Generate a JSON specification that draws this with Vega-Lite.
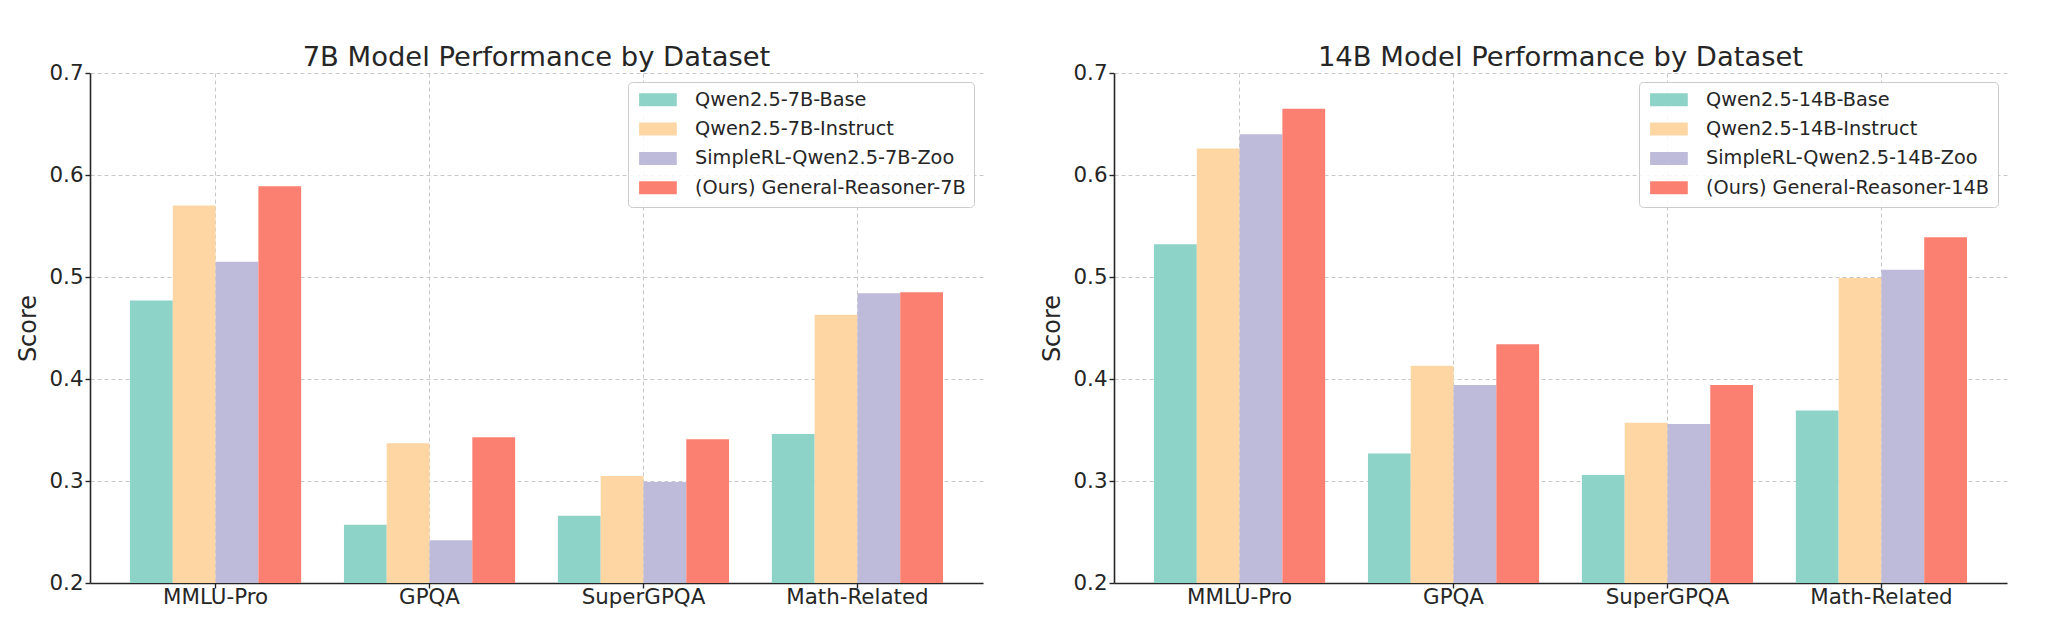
{
  "$schema": "https://vega.github.io/schema/vega-lite/v6.json",
  "padding": {"left": 16, "top": 43, "right": 10, "bottom": 5},
  "background": "white",
  "spacing": 131,
  "bounds": "flush",
  "datasets": {
    "scores": [
      {"panel": "7B", "dataset": "MMLU-Pro", "model": "Qwen2.5-7B-Base", "score": 0.477},
      {"panel": "7B", "dataset": "MMLU-Pro", "model": "Qwen2.5-7B-Instruct", "score": 0.570},
      {"panel": "7B", "dataset": "MMLU-Pro", "model": "SimpleRL-Qwen2.5-7B-Zoo", "score": 0.515},
      {"panel": "7B", "dataset": "MMLU-Pro", "model": "(Ours) General-Reasoner-7B", "score": 0.589},
      {"panel": "7B", "dataset": "GPQA", "model": "Qwen2.5-7B-Base", "score": 0.257},
      {"panel": "7B", "dataset": "GPQA", "model": "Qwen2.5-7B-Instruct", "score": 0.337},
      {"panel": "7B", "dataset": "GPQA", "model": "SimpleRL-Qwen2.5-7B-Zoo", "score": 0.242},
      {"panel": "7B", "dataset": "GPQA", "model": "(Ours) General-Reasoner-7B", "score": 0.343},
      {"panel": "7B", "dataset": "SuperGPQA", "model": "Qwen2.5-7B-Base", "score": 0.266},
      {"panel": "7B", "dataset": "SuperGPQA", "model": "Qwen2.5-7B-Instruct", "score": 0.305},
      {"panel": "7B", "dataset": "SuperGPQA", "model": "SimpleRL-Qwen2.5-7B-Zoo", "score": 0.299},
      {"panel": "7B", "dataset": "SuperGPQA", "model": "(Ours) General-Reasoner-7B", "score": 0.341},
      {"panel": "7B", "dataset": "Math-Related", "model": "Qwen2.5-7B-Base", "score": 0.346},
      {"panel": "7B", "dataset": "Math-Related", "model": "Qwen2.5-7B-Instruct", "score": 0.463},
      {"panel": "7B", "dataset": "Math-Related", "model": "SimpleRL-Qwen2.5-7B-Zoo", "score": 0.484},
      {"panel": "7B", "dataset": "Math-Related", "model": "(Ours) General-Reasoner-7B", "score": 0.485},
      {"panel": "14B", "dataset": "MMLU-Pro", "model": "Qwen2.5-14B-Base", "score": 0.532},
      {"panel": "14B", "dataset": "MMLU-Pro", "model": "Qwen2.5-14B-Instruct", "score": 0.626},
      {"panel": "14B", "dataset": "MMLU-Pro", "model": "SimpleRL-Qwen2.5-14B-Zoo", "score": 0.640},
      {"panel": "14B", "dataset": "MMLU-Pro", "model": "(Ours) General-Reasoner-14B", "score": 0.665},
      {"panel": "14B", "dataset": "GPQA", "model": "Qwen2.5-14B-Base", "score": 0.327},
      {"panel": "14B", "dataset": "GPQA", "model": "Qwen2.5-14B-Instruct", "score": 0.413},
      {"panel": "14B", "dataset": "GPQA", "model": "SimpleRL-Qwen2.5-14B-Zoo", "score": 0.394},
      {"panel": "14B", "dataset": "GPQA", "model": "(Ours) General-Reasoner-14B", "score": 0.434},
      {"panel": "14B", "dataset": "SuperGPQA", "model": "Qwen2.5-14B-Base", "score": 0.306},
      {"panel": "14B", "dataset": "SuperGPQA", "model": "Qwen2.5-14B-Instruct", "score": 0.357},
      {"panel": "14B", "dataset": "SuperGPQA", "model": "SimpleRL-Qwen2.5-14B-Zoo", "score": 0.356},
      {"panel": "14B", "dataset": "SuperGPQA", "model": "(Ours) General-Reasoner-14B", "score": 0.394},
      {"panel": "14B", "dataset": "Math-Related", "model": "Qwen2.5-14B-Base", "score": 0.369},
      {"panel": "14B", "dataset": "Math-Related", "model": "Qwen2.5-14B-Instruct", "score": 0.499},
      {"panel": "14B", "dataset": "Math-Related", "model": "SimpleRL-Qwen2.5-14B-Zoo", "score": 0.507},
      {"panel": "14B", "dataset": "Math-Related", "model": "(Ours) General-Reasoner-14B", "score": 0.539}
    ]
  },
  "resolve": {
    "scale": {"color": "independent", "xOffset": "independent", "x": "independent", "y": "independent"},
    "legend": {"color": "independent"}
  },
  "hconcat": [
    {
      "width": 893,
      "height": 510,
      "title": {"text": "7B Model Performance by Dataset"},
      "data": {"name": "scores"},
      "transform": [{"filter": "datum.panel === '7B'"}],
      "mark": {"type": "bar", "clip": true},
      "encoding": {
        "x": {
          "field": "dataset", "type": "nominal", "title": null,
          "sort": ["MMLU-Pro", "GPQA", "SuperGPQA", "Math-Related"],
          "scale": {"paddingInner": 0.2, "paddingOuter": 0.187}
        },
        "xOffset": {
          "field": "model", "type": "nominal",
          "sort": ["Qwen2.5-7B-Base", "Qwen2.5-7B-Instruct", "SimpleRL-Qwen2.5-7B-Zoo", "(Ours) General-Reasoner-7B"]
        },
        "y": {
          "field": "score", "type": "quantitative", "title": "Score",
          "scale": {"domain": [0.2, 0.7], "nice": false, "zero": false},
          "axis": {"values": [0.2, 0.3, 0.4, 0.5, 0.6, 0.7], "format": ".1f"}
        },
        "color": {
          "field": "model", "type": "nominal", "title": null,
          "scale": {
            "domain": ["Qwen2.5-7B-Base", "Qwen2.5-7B-Instruct", "SimpleRL-Qwen2.5-7B-Zoo", "(Ours) General-Reasoner-7B"],
            "range": ["#8DD3C7", "#FDD6A4", "#BEBADA", "#FB8072"]
          }
        }
      }
    },
    {
      "width": 893,
      "height": 510,
      "title": {"text": "14B Model Performance by Dataset"},
      "data": {"name": "scores"},
      "transform": [{"filter": "datum.panel === '14B'"}],
      "mark": {"type": "bar", "clip": true},
      "encoding": {
        "x": {
          "field": "dataset", "type": "nominal", "title": null,
          "sort": ["MMLU-Pro", "GPQA", "SuperGPQA", "Math-Related"],
          "scale": {"paddingInner": 0.2, "paddingOuter": 0.187}
        },
        "xOffset": {
          "field": "model", "type": "nominal",
          "sort": ["Qwen2.5-14B-Base", "Qwen2.5-14B-Instruct", "SimpleRL-Qwen2.5-14B-Zoo", "(Ours) General-Reasoner-14B"]
        },
        "y": {
          "field": "score", "type": "quantitative", "title": "Score",
          "scale": {"domain": [0.2, 0.7], "nice": false, "zero": false},
          "axis": {"values": [0.2, 0.3, 0.4, 0.5, 0.6, 0.7], "format": ".1f"}
        },
        "color": {
          "field": "model", "type": "nominal", "title": null,
          "scale": {
            "domain": ["Qwen2.5-14B-Base", "Qwen2.5-14B-Instruct", "SimpleRL-Qwen2.5-14B-Zoo", "(Ours) General-Reasoner-14B"],
            "range": ["#8DD3C7", "#FDD6A4", "#BEBADA", "#FB8072"]
          }
        }
      }
    }
  ],
  "config": {
    "font": "DejaVu Sans",
    "view": {"stroke": null},
    "title": {
      "fontSize": 27.4, "fontWeight": "normal", "color": "#262626",
      "baseline": "alphabetic", "offset": -9, "anchor": "middle"
    },
    "axis": {
      "labelFont": "DejaVu Sans", "labelFontSize": 21.4, "labelColor": "#262626",
      "titleFont": "DejaVu Sans", "titleFontSize": 24, "titleFontWeight": "normal", "titleColor": "#262626",
      "domainColor": "#262626", "domainWidth": 1.6,
      "tickColor": "#262626", "tickWidth": 1.4, "tickSize": 5,
      "grid": true, "gridColor": "#c8c8c8", "gridDash": [4, 3], "gridWidth": 1,
      "zindex": 1
    },
    "axisX": {"labelAngle": 0, "labelPadding": -2, "bandPosition": 0.5},
    "axisY": {"labelPadding": 2, "titlePadding": 8},
    "legend": {
      "orient": "top-right", "offset": 9,
      "labelFont": "DejaVu Sans", "labelFontSize": 19.3, "labelColor": "#262626", "labelLimit": 400,
      "symbolType": "M-2.9,-1H2.9V1H-2.9Z", "symbolSize": 169, "symbolStrokeWidth": 0,
      "symbolOffset": 12.3, "labelOffset": 27.4,
      "rowPadding": 9.4, "padding": 8,
      "strokeColor": "#cccccc", "fillColor": "rgba(255,255,255,0.85)", "cornerRadius": 4
    }
  }
}
